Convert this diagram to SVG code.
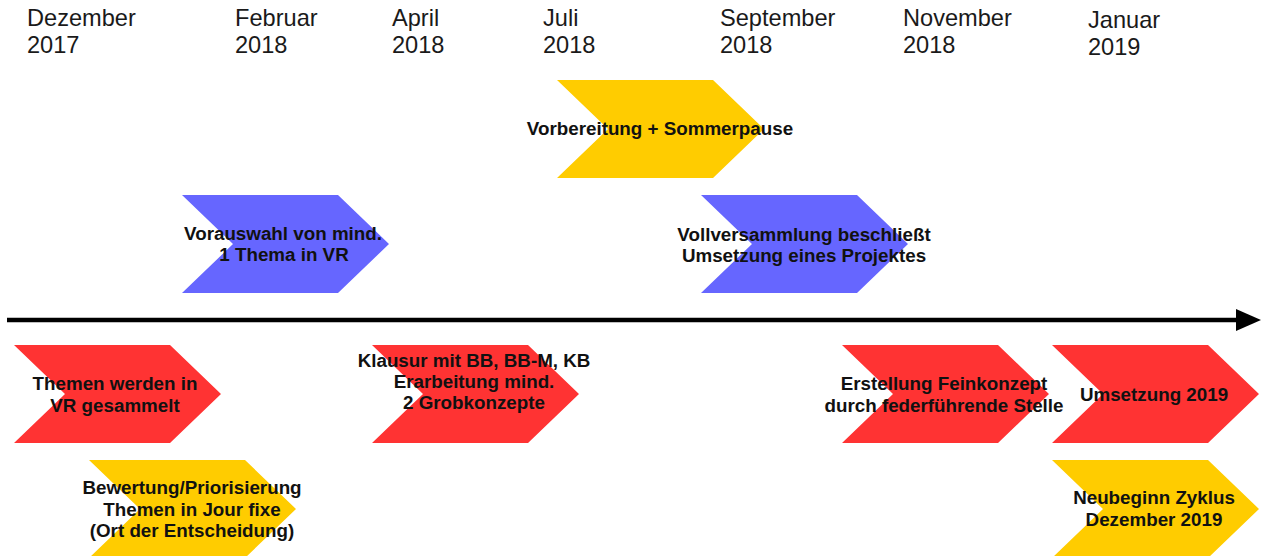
<svg xmlns="http://www.w3.org/2000/svg" xmlns:xlink="http://www.w3.org/1999/xlink" width="1261" height="556" viewBox="0 0 1261 556">
  <style>
    .month { font-family: "Liberation Sans", Arial, sans-serif; font-size: 23.6px; fill: #1a1a1a; }
    .lbl { font-family: "Liberation Sans", Arial, sans-serif; font-size: 18.8px; font-weight: bold; fill: #111; text-anchor: middle; }
    .red { fill: #FF3333; }
    .yellow { fill: #FFCC00; }
    .blue { fill: #6666FF; }
  </style>
  <defs>
    <path id="chev" d="M0,0 H156 L207,49 L156,98 H0 L51,49 Z"/>
    <marker id="arrow" viewBox="0 0 25 22" refX="0" refY="11" markerWidth="25" markerHeight="22" markerUnits="userSpaceOnUse" orient="auto">
      <path d="M0,0 L25,11 L0,22 Z" fill="#000"/>
    </marker>
  </defs>
  <rect width="1261" height="556" fill="#fff"/>

  <g id="months">
    <text class="month" x="27" y="26">Dezember<tspan x="27" y="53">2017</tspan></text>
    <text class="month" x="235" y="26">Februar<tspan x="235" y="53">2018</tspan></text>
    <text class="month" x="392" y="26">April<tspan x="392" y="53">2018</tspan></text>
    <text class="month" x="543" y="26">Juli<tspan x="543" y="53">2018</tspan></text>
    <text class="month" x="720" y="26">September<tspan x="720" y="53">2018</tspan></text>
    <text class="month" x="903" y="26">November<tspan x="903" y="53">2018</tspan></text>
    <text class="month" x="1088" y="28">Januar<tspan x="1088" y="55">2019</tspan></text>
  </g>

  <g id="connectors">
    <line x1="7" y1="320" x2="1236" y2="320" stroke="#000" stroke-width="4.5" marker-end="url(#arrow)"/>
  </g>

  <g id="n-vorbereitung">
    <use xlink:href="#chev" href="#chev" x="557" y="80" class="yellow"/>
    <text class="lbl" x="660" y="135">Vorbereitung + Sommerpause</text>
  </g>
  <g id="n-vorauswahl">
    <use xlink:href="#chev" href="#chev" x="182" y="195" class="blue"/>
    <text class="lbl" x="283" y="240">Vorauswahl von mind.<tspan x="284" y="261">1 Thema in VR</tspan></text>
  </g>
  <g id="n-vollversammlung">
    <use xlink:href="#chev" href="#chev" x="701" y="195" class="blue"/>
    <text class="lbl" x="804" y="240.5">Vollversammlung beschließt<tspan x="804" y="261.5">Umsetzung eines Projektes</tspan></text>
  </g>
  <g id="n-themen">
    <use xlink:href="#chev" href="#chev" x="14" y="345" class="red"/>
    <text class="lbl" x="115" y="390">Themen werden in<tspan x="115" y="412">VR gesammelt</tspan></text>
  </g>
  <g id="n-klausur">
    <use xlink:href="#chev" href="#chev" x="372" y="345" class="red"/>
    <text class="lbl" x="474" y="367">Klausur mit BB, BB-M, KB<tspan x="474" y="388">Erarbeitung mind.</tspan><tspan x="474" y="409">2 Grobkonzepte</tspan></text>
  </g>
  <g id="n-erstellung">
    <use xlink:href="#chev" href="#chev" x="842" y="345" class="red"/>
    <text class="lbl" x="944" y="390">Erstellung Feinkonzept<tspan x="944" y="411.5">durch federführende Stelle</tspan></text>
  </g>
  <g id="n-umsetzung">
    <use xlink:href="#chev" href="#chev" x="1052" y="345" class="red"/>
    <text class="lbl" x="1154" y="401">Umsetzung 2019</text>
  </g>
  <g id="n-bewertung">
    <use xlink:href="#chev" href="#chev" x="89" y="460" class="yellow"/>
    <text class="lbl" x="192" y="494">Bewertung/Priorisierung<tspan x="192" y="515.5">Themen in Jour fixe</tspan><tspan x="192" y="537">(Ort der Entscheidung)</tspan></text>
  </g>
  <g id="n-neubeginn">
    <use xlink:href="#chev" href="#chev" x="1052" y="460" class="yellow"/>
    <text class="lbl" x="1154" y="504">Neubeginn Zyklus<tspan x="1154" y="525.5">Dezember 2019</tspan></text>
  </g>
</svg>
